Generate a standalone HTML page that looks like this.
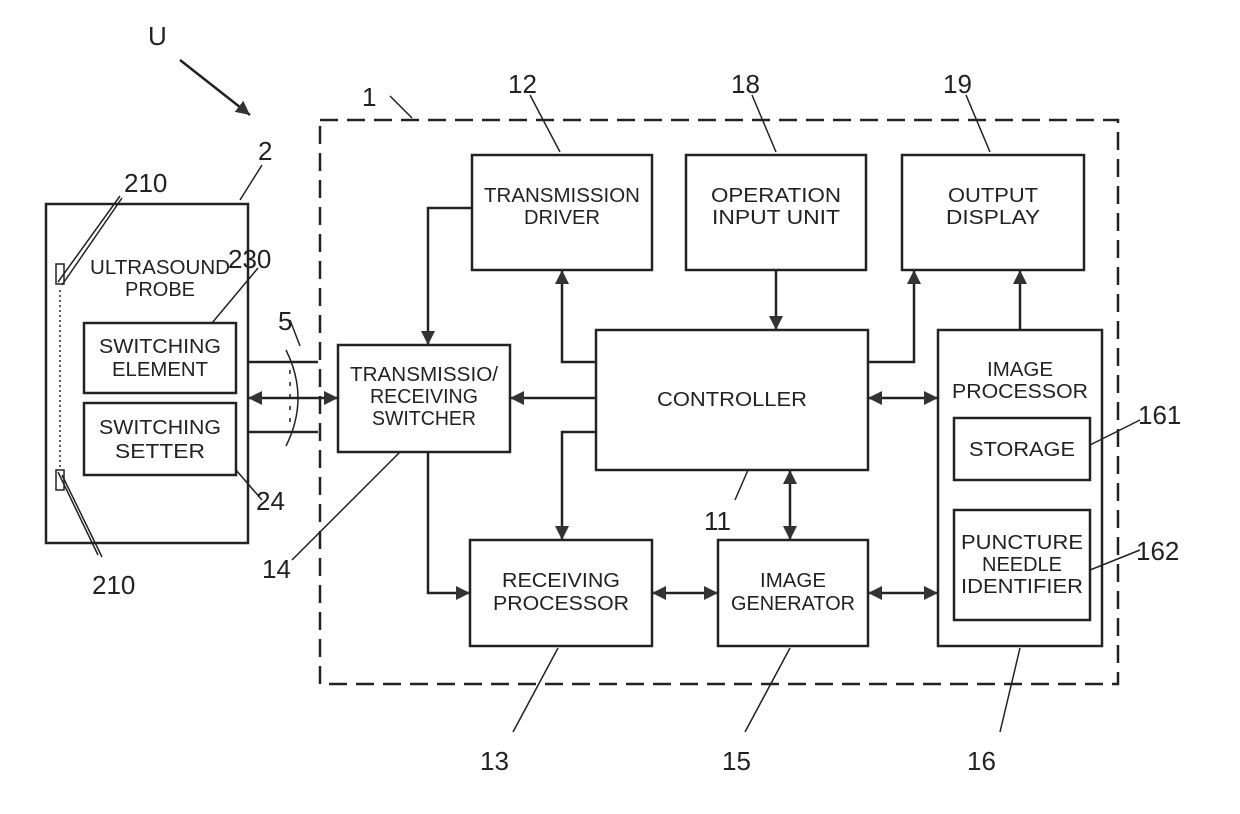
<!DOCTYPE html>
<html><head><meta charset="utf-8"><style>html,body{margin:0;padding:0;background:#fff}svg{display:block}</style></head>
<body>
<svg width="1240" height="814" viewBox="0 0 1240 814" xmlns="http://www.w3.org/2000/svg" font-family="Liberation Sans, sans-serif">
<defs>
<marker id="a" viewBox="0 0 10 10" refX="10" refY="5" markerWidth="14" markerHeight="14" markerUnits="userSpaceOnUse" orient="auto-start-reverse"><path d="M0,0L10,5L0,10z" fill="#333"/></marker>
</defs>
<g stroke="#222" stroke-width="2.5" fill="none">
<rect x="320" y="120" width="798" height="564" stroke-dasharray="18,9"/>
<rect x="46" y="204" width="202" height="339"/>
<rect x="84" y="323" width="152" height="70"/>
<rect x="84" y="403" width="152" height="72"/>
<rect x="338" y="345" width="172" height="107"/>
<rect x="472" y="155" width="180" height="115"/>
<rect x="686" y="155" width="180" height="115"/>
<rect x="902" y="155" width="182" height="115"/>
<rect x="596" y="330" width="272" height="140"/>
<rect x="938" y="330" width="164" height="316"/>
<rect x="954" y="418" width="136" height="62"/>
<rect x="954" y="510" width="136" height="110"/>
<rect x="470" y="540" width="182" height="106"/>
<rect x="718" y="540" width="150" height="106"/>
</g>
<g stroke="#222" stroke-width="2.5" fill="none">
<path d="M248,362H318M248,432H318"/>
<path d="M248,398H338" marker-start="url(#a)" marker-end="url(#a)"/>
<path d="M286,350Q310,398 286,446" stroke-width="1.5"/>
<path d="M290,370V426" stroke-width="1.5" stroke-dasharray="4,8"/>
<path d="M472,208H428V345" marker-end="url(#a)"/>
<path d="M428,452V593H470" marker-end="url(#a)"/>
<path d="M596,398H510" marker-end="url(#a)"/>
<path d="M596,362H562V270" marker-end="url(#a)"/>
<path d="M596,432H562V540" marker-end="url(#a)"/>
<path d="M776,270V330" marker-end="url(#a)"/>
<path d="M868,362H914V270" marker-end="url(#a)"/>
<path d="M868,398H938" marker-start="url(#a)" marker-end="url(#a)"/>
<path d="M790,470V540" marker-start="url(#a)" marker-end="url(#a)"/>
<path d="M652,593H718" marker-start="url(#a)" marker-end="url(#a)"/>
<path d="M868,593H938" marker-start="url(#a)" marker-end="url(#a)"/>
<path d="M1020,330V270" marker-end="url(#a)"/>
<path d="M180,60L250,115" marker-end="url(#a)"/>
</g>
<g stroke="#222" stroke-width="1.5" fill="none">
<path d="M412,118L390,96M560,152L530,95M776,152L752,95M990,152L966,95M240,200L262,165"/>
<path d="M58,282L120,196M62,285L122,198M58,472L98,555M62,475L102,557"/>
<path d="M60,290V470" stroke-dasharray="2,3"/>
<rect x="56" y="264" width="8" height="20"/><rect x="56" y="470" width="8" height="20"/>
<path d="M212,323L258,268M236,470L262,500M300,346L290,320M400,452L292,560"/>
<path d="M1090,445L1140,420M1090,570L1140,550"/>
<path d="M748,470L735,500"/>
<path d="M558,648L513,732M790,648L745,732M1020,648L1000,732"/>
</g>
<g font-size="26" fill="#222">
<text x="148" y="45">U</text>
<text x="362" y="106">1</text>
<text x="508" y="93">12</text>
<text x="731" y="93">18</text>
<text x="943" y="93">19</text>
<text x="258" y="160">2</text>
<text x="124" y="192">210</text>
<text x="228" y="268">230</text>
<text x="278" y="330">5</text>
<text x="256" y="510">24</text>
<text x="262" y="578">14</text>
<text x="92" y="594">210</text>
<text x="704" y="530">11</text>
<text x="1138" y="424">161</text>
<text x="1136" y="560">162</text>
<text x="480" y="770">13</text>
<text x="722" y="770">15</text>
<text x="967" y="770">16</text>
</g>
<g font-size="20" fill="#222" text-anchor="middle">
<text x="160" y="274" textLength="140" lengthAdjust="spacingAndGlyphs">ULTRASOUND</text>
<text x="160" y="296" textLength="70" lengthAdjust="spacingAndGlyphs">PROBE</text>
<text x="160" y="353" textLength="122" lengthAdjust="spacingAndGlyphs">SWITCHING</text>
<text x="160" y="376" textLength="96" lengthAdjust="spacingAndGlyphs">ELEMENT</text>
<text x="160" y="434" textLength="122" lengthAdjust="spacingAndGlyphs">SWITCHING</text>
<text x="160" y="458" textLength="90" lengthAdjust="spacingAndGlyphs">SETTER</text>
<text x="424" y="381" textLength="148" lengthAdjust="spacingAndGlyphs">TRANSMISSIO/</text>
<text x="424" y="403" textLength="108" lengthAdjust="spacingAndGlyphs">RECEIVING</text>
<text x="424" y="425" textLength="104" lengthAdjust="spacingAndGlyphs">SWITCHER</text>
<text x="562" y="202" textLength="156" lengthAdjust="spacingAndGlyphs">TRANSMISSION</text>
<text x="562" y="224" textLength="76" lengthAdjust="spacingAndGlyphs">DRIVER</text>
<text x="776" y="202" textLength="130" lengthAdjust="spacingAndGlyphs">OPERATION</text>
<text x="776" y="224" textLength="128" lengthAdjust="spacingAndGlyphs">INPUT UNIT</text>
<text x="993" y="202" textLength="90" lengthAdjust="spacingAndGlyphs">OUTPUT</text>
<text x="993" y="224" textLength="94" lengthAdjust="spacingAndGlyphs">DISPLAY</text>
<text x="732" y="406" textLength="150" lengthAdjust="spacingAndGlyphs">CONTROLLER</text>
<text x="1020" y="376" textLength="66" lengthAdjust="spacingAndGlyphs">IMAGE</text>
<text x="1020" y="398" textLength="136" lengthAdjust="spacingAndGlyphs">PROCESSOR</text>
<text x="1022" y="456" textLength="106" lengthAdjust="spacingAndGlyphs">STORAGE</text>
<text x="1022" y="549" textLength="122" lengthAdjust="spacingAndGlyphs">PUNCTURE</text>
<text x="1022" y="571" textLength="80" lengthAdjust="spacingAndGlyphs">NEEDLE</text>
<text x="1022" y="593" textLength="122" lengthAdjust="spacingAndGlyphs">IDENTIFIER</text>
<text x="561" y="587" textLength="118" lengthAdjust="spacingAndGlyphs">RECEIVING</text>
<text x="561" y="610" textLength="136" lengthAdjust="spacingAndGlyphs">PROCESSOR</text>
<text x="793" y="587" textLength="66" lengthAdjust="spacingAndGlyphs">IMAGE</text>
<text x="793" y="610" textLength="124" lengthAdjust="spacingAndGlyphs">GENERATOR</text>
</g>
</svg>
</body></html>
